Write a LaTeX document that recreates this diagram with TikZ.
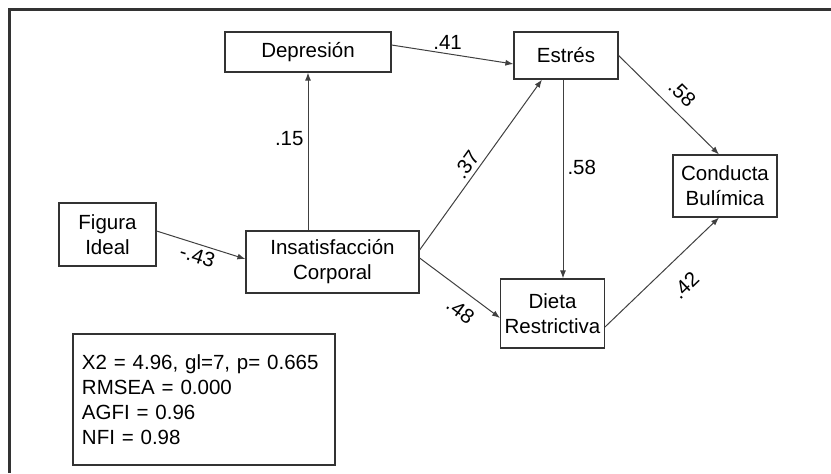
\documentclass[tikz,border=0pt]{standalone}
\usepackage{fontspec}
\setmainfont{Liberation Sans}
\usetikzlibrary{arrows.meta}
\tikzset{
  varbox/.style={shape=rectangle,draw=black!80,line width=0.6pt,align=center,inner sep=2pt},
  path/.style={-{Latex[length=4pt,width=3pt]},draw=black!75,line width=0.5pt},
  coef/.style={font=\fontsize{10.25}{12.5}\selectfont,inner sep=2pt}
}

\begin{document}
\begin{tikzpicture}[x=0.5pt,y=-0.5pt,font=\fontsize{10.25}{12.5}\selectfont]
\useasboundingbox (0,0) rectangle (831,473);
\draw[draw=black!80,line width=1.5pt] (831,9) -- (9,9) -- (9,473);
\node[varbox,minimum width=83pt,minimum height=20pt] (dep) at (308,52) {Depresión};
\node[varbox,minimum width=52pt,minimum height=23.5pt] (estres) at (566,55.5) {Estrés};
\node[varbox,minimum width=52pt,minimum height=31pt] (cb) at (725,186) {Conducta\\Bulímica};
\node[varbox,minimum width=48.5pt,minimum height=31.5pt] (fig) at (107.5,234.5) {Figura\\Ideal};
\node[varbox,minimum width=86.5pt,minimum height=31pt] (insat) at (332.5,262) {Insatisfacción\\Corporal};
\node[varbox,minimum width=51.5pt,minimum height=34.5pt] (dieta) at (552.5,313.5) {Dieta\\Restrictiva};
\node[varbox,align=left,text width=122pt,inner xsep=4.5pt,minimum height=65.5pt] (fit) at (204,399.5)
  {X2 = 4.96, gl=7, p= 0.665\\RMSEA = 0.000\\AGFI = 0.96\\NFI = 0.98};
%%%%%%%%%%%%%%%
\draw[path] ([yshift=3.5pt]dep.east) -- node [coef, above, pos=0.46] {.41} ([yshift=-4.25pt]estres.west);
\draw[path] (dep.south |- insat.north) -- node [coef, left, pos=0.58] {.15} (dep.south);
\draw[path] ([yshift=1.75pt]fig.east) -- node [coef, below, sloped] {-.43} ([yshift=1.5pt]insat.west);
\draw[path] ([yshift=6pt]insat.east) -- node [coef, above, sloped, pos=0.46] {.37} ([xshift=-12pt]estres.south);
\draw[path] ([yshift=2pt]insat.east) -- node [coef, below=3pt, sloped, pos=0.64] {.48} ([yshift=-2.25pt]dieta.west);
\draw[path] ([xshift=-1.5pt]estres.south) -- node [coef, right, pos=0.44] {.58} ([xshift=-1.5pt]estres.south |- dieta.north);
\draw[path] (estres.east) -- node [coef, above=3pt, sloped, pos=0.51] {.58} ([xshift=-3pt]cb.north);
\draw[path] ([yshift=-6.75pt]dieta.east) -- node [coef, below=7pt, sloped, pos=0.55] {.42} ([xshift=-3pt]cb.south);
\end{tikzpicture}
\end{document}
